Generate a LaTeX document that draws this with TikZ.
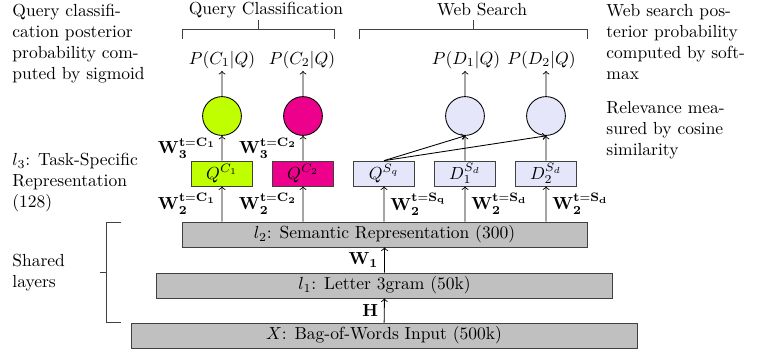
\documentclass[tikz,border=0pt]{standalone}
\usepackage{amsmath}
\usepackage{amssymb}
\definecolor{limeq}{RGB}{191,255,0}
\definecolor{magentaq}{RGB}{236,0,140}
\definecolor{lavweb}{RGB}{230,230,250}
\definecolor{layergray}{RGB}{192,192,192}
\begin{document}
\begin{tikzpicture}[scale=0.201, line width=0.5pt,
  layerbox/.style={draw=black!75, fill=layergray, minimum height=0.5cm, inner sep=0pt},
  taskbox/.style={draw=black!75, minimum width=1.23cm, minimum height=0.5cm, inner sep=0pt},
  outnode/.style={draw=black, circle, minimum size=0.78cm, inner sep=0pt},
  problabel/.style={inner sep=1pt},
  note/.style={align=left, anchor=north west, inner sep=0pt},
  bracket/.style={draw=black!75}]
\useasboundingbox (0,0) rectangle (76,-35.6);
\node [layerbox, minimum width=10.17cm] (x) at (38.4,-33.55) {$X$: Bag-of-Words Input (500k)};
\node [layerbox, minimum width=9.15cm] (l1) at (38.45,-28.55) {$l_1$: Letter 3gram (50k)};
\node [layerbox, minimum width=8.14cm] (l2) at (38.45,-23.45) {$l_2$: Semantic Representation (300)};
\node [taskbox, fill=limeq] (qc1) at (22.2,-17.35) {$Q^{C_1}$};
\node [taskbox, fill=magentaq] (qc2) at (30.3,-17.35) {$Q^{C_2}$};
\node [taskbox, fill=lavweb] (qs) at (38.4,-17.35) {$Q^{S_q}$};
\node [taskbox, fill=lavweb] (d1) at (46.5,-17.35) {$D_1^{S_d}$};
\node [taskbox, fill=lavweb] (d2) at (54.6,-17.35) {$D_2^{S_d}$};
\node [outnode, fill=limeq] (oc1) at (22.2,-11.6) {};
\node [outnode, fill=magentaq] (oc2) at (30.3,-11.6) {};
\node [outnode, fill=lavweb] (od1) at (46.5,-11.6) {};
\node [outnode, fill=lavweb] (od2) at (54.6,-11.6) {};
\node [problabel] (pc1) at (22.2,-6.0) {$P(C_1|Q)$};
\node [problabel] (pc2) at (30.2,-6.0) {$P(C_2|Q)$};
\node [problabel] (pd1) at (46.6,-6.0) {$P(D_1|Q)$};
\node [problabel] (pd2) at (54.15,-6.0) {$P(D_2|Q)$};
\draw [->] (x) -- (l1) node [midway, left] {$\mathbf{H}$};
\draw [->] (l1) -- (l2) node [midway, left] {$\mathbf{W_1}$};
\draw [->] (l2.north -| qc1) -- (qc1) node [midway, left] {$\mathbf{W_2^{t=C_1}}$};
\draw [->] (l2.north -| qc2) -- (qc2) node [midway, left] {$\mathbf{W_2^{t=C_2}}$};
\draw [->] (l2.north -| qs) -- (qs) node [midway, right] {$\mathbf{W_2^{t=S_q}}$};
\draw [->] (l2.north -| d1) -- (d1) node [midway, right] {$\mathbf{W_2^{t=S_d}}$};
\draw [->] (l2.north -| d2) -- (d2) node [midway, right] {$\mathbf{W_2^{t=S_d}}$};
\draw [->] (qc1) -- (oc1) node [midway, left] {$\mathbf{W_3^{t=C_1}}$};
\draw [->] (qc2) -- (oc2) node [midway, left] {$\mathbf{W_3^{t=C_2}}$};
\draw [->] (d1) -- (od1);
\draw [->] (d2) -- (od2);
\draw [->] (qs.north) -- (od1.south);
\draw [->] (qs.north) -- (od2.south);
\draw [->] (oc1) -- (oc1.north |- pc1.south);
\draw [->] (oc2) -- (oc2.north |- pc2.south);
\draw [->] (od1) -- (od1.north |- pd1.south);
\draw [->] (od2) -- (od2.north |- pd2.south);
\draw [bracket] (18.2,-3.9) -- (18.2,-2.9) -- (33.4,-2.9) -- (33.4,-3.9);
\draw [bracket] (25.8,-2.9) -- (25.8,-2.0);
\node (qctitle) at (26.6,-1.0) {Query Classification};
\draw [bracket] (35.9,-3.9) -- (35.9,-2.9) -- (58.7,-2.9) -- (58.7,-3.9);
\draw [bracket] (47.3,-2.9) -- (47.3,-2.0);
\node (wstitle) at (48.2,-1.0) {Web Search};
\draw [bracket] (12.1,-22.2) -- (10.6,-22.2) -- (10.6,-32.2) -- (12.1,-32.2);
\draw [bracket] (10.6,-27.2) -- (10.0,-27.2);
\node [note] (noteqc) at (1.2,-0.35) {Query classifi-\\cation posterior\\probability com-\\puted by sigmoid};
\node [note] (notelthree) at (1.2,-15.3) {$l_3$: Task-Specific\\Representation\\(128)};
\node [note] (noteshared) at (1.2,-25.4) {Shared\\layers};
\node [note] (noteweb) at (60.6,-0.35) {Web search pos-\\terior probability\\computed by soft-\\max};
\node [note] (noterel) at (60.6,-10.1) {Relevance mea-\\sured by cosine\\similarity};
\end{tikzpicture}
\end{document}
